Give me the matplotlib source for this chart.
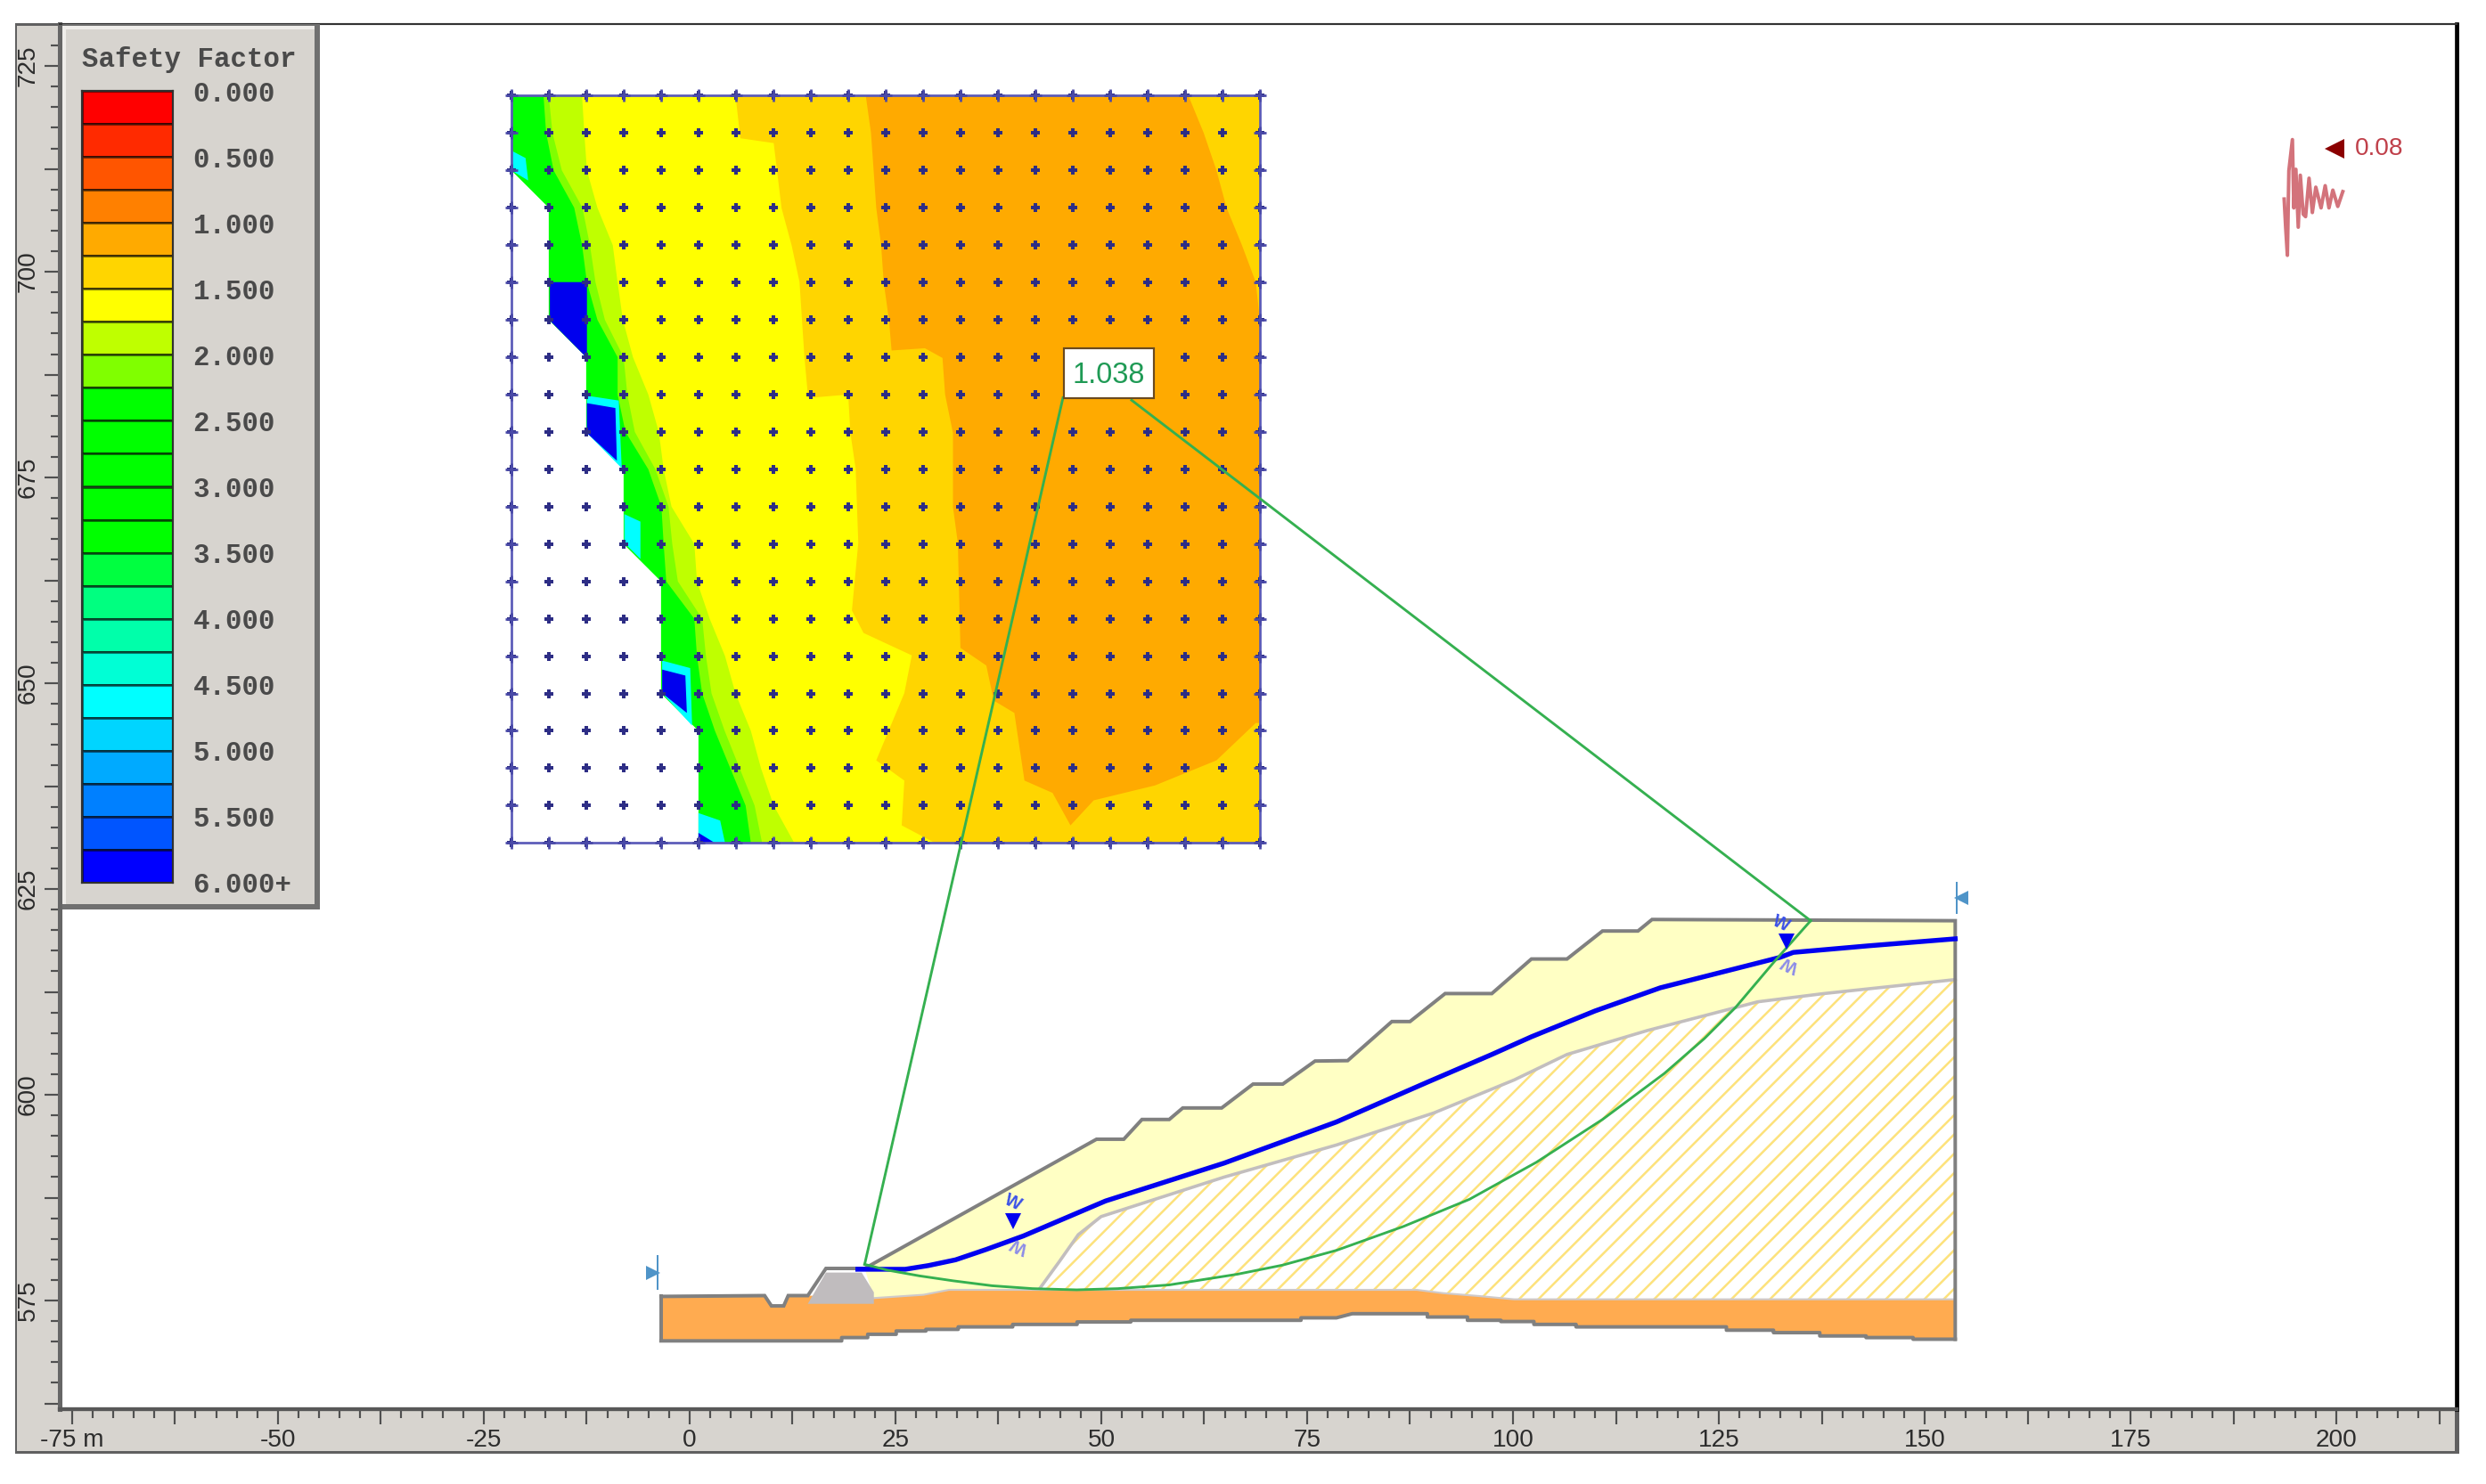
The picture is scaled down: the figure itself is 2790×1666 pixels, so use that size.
import numpy as np
import matplotlib
matplotlib.use("Agg")
import matplotlib.pyplot as plt
from matplotlib.patches import Polygon, Rectangle

W, H, DPI = 2790, 1666, 130

# safety factor legend
fs_levels = np.arange(0, 6, 0.25)
fs_colors = ["#ff0000", "#ff2a00", "#ff5500", "#ff8000", "#ffaa00", "#ffd500", "#ffff00", "#bfff00",
             "#80ff00", "#00ff00", "#00ff00", "#00ff00", "#00ff00", "#00ff00", "#00ff40", "#00ff80",
             "#00ffaa", "#00ffd5", "#00ffff", "#00d5ff", "#00aaff", "#0080ff", "#0055ff", "#0000ff"]
fs_ticks = [0, 0.5, 1, 1.5, 2, 2.5, 3, 3.5, 4, 4.5, 5, 5.5, 6]
fs_labels = ["0.000", "0.500", "1.000", "1.500", "2.000", "2.500", "3.000", "3.500", "4.000",
             "4.500", "5.000", "5.500", "6.000+"]

# slope geometry, metres
surface_x = [-3.47, 9.11, 9.94, 11.43, 11.98, 14.36, 16.56, 21.26, 49.42, 52.73, 54.94, 58.25, 59.9, 64.62,
             68.43, 72.04, 75.96, 79.92, 85.29, 87.49, 91.76, 97.43, 102.24, 106.56, 110.87, 115.18, 116.89, 153.71]
surface_y = [575.5, 575.6, 574.35, 574.35, 575.6, 575.6, 578.9, 578.9, 594.6, 594.6, 597, 597, 598.4, 598.4,
             601.3, 601.3, 604.1, 604.15, 608.9, 608.9, 612.3, 612.3, 616.5, 616.5, 619.9, 619.9, 621.3, 621.15]
base_x = [-3.47, 18.47, 18.47, 21.63, 21.63, 25.09, 25.09, 28.7, 28.7, 32.62, 32.62, 39.24, 39.24, 47.06, 47.06,
          53.58, 53.58, 74.25, 74.25, 78.56, 80.47, 89.6, 89.6, 94.47, 94.47, 98.53, 98.53, 102.54, 102.54,
          107.66, 107.66, 125.92, 125.92, 131.64, 131.64, 137.26, 137.26, 142.88, 142.88, 148.59, 148.59, 153.71]
base_y = [570.1, 570.1, 570.5, 570.5, 570.9, 570.9, 571.3, 571.3, 571.5, 571.5, 571.8, 571.8, 572.1, 572.1, 572.4,
          572.4, 572.6, 572.6, 572.9, 572.9, 573.4, 573.4, 573, 573, 572.6, 572.6, 572.45, 572.45, 572.1,
          572.1, 571.8, 571.8, 571.4, 571.4, 571.1, 571.1, 570.7, 570.7, 570.5, 570.5, 570.3, 570.3]
found_x = [14.36, 22.38, 28.4, 31.51, 56.0, 88.3, 91.5, 95.82, 100.13, 153.71]
found_y = [575.6, 575.3, 575.7, 576.3, 576.3, 576.3, 575.9, 575.55, 575.15, 575.15]
iface_x = [42.55, 44.95, 47.2, 49.97, 64.92, 78.56, 90.4, 100.13, 106.56, 116.29, 129.73, 137.76, 153.71]
iface_y = [576.5, 579.8, 583, 585.2, 590, 593.9, 597.8, 601.8, 604.9, 607.8, 611.3, 612.3, 614]
water_x = [20.43, 26.19, 29, 32.31, 36, 40.54, 50.52, 64.92, 78.56, 89.3, 97.43, 102.24, 110, 117.89, 132.44,
           134.04, 143.17, 153.71]
water_y = [578.8, 578.8, 579.25, 579.95, 581.2, 582.85, 587.1, 591.7, 596.7, 601.4, 604.9, 607.05, 610.2, 613,
           616.7, 617.3, 618.1, 618.95]
slip_x = [21.26, 24, 27.9, 32, 36.73, 41.64, 47, 52, 58.25, 66.53, 72, 78.56, 86.69, 94.71, 102.84, 110.87,
          118.39, 123.26, 127.02, 131.84, 136.15]
slip_y = [579.4, 578.7, 578, 577.4, 576.8, 576.45, 576.3, 576.45, 576.9, 578.2, 579.3, 581.1, 584, 587.3, 591.8,
          597, 602.6, 606.85, 610.6, 616.3, 621.15]
block_x = [14.36, 16.56, 20.9, 22.38, 22.38]
block_y = [574.6, 578.4, 578.4, 576, 574.6]

# search grid
grid_x = np.linspace(-21.65, 69.26, 21)
grid_y = np.linspace(721.4, 630.6, 21)

# contour band edges on the search grid, in column number per grid row
edge_left = [0, 0, 0, 1, 1, 1, 1, 2, 2, 2, 3, 3, 3, 4, 4, 4, 4, 5, 5, 5, 5]
edge_green = [0.86, 0.93, 1.13, 1.68, 1.89, 2.02, 2.3, 2.84, 2.84, 3.05, 3.66, 4.01, 4.07, 4.14, 4.89, 4.96, 5.1,
              5.44, 5.85, 6.26, 6.4]
edge_lime = [1.0, 1.1, 1.35, 1.9, 2.1, 2.25, 2.5, 3.0, 3.1, 3.3, 3.85, 4.2, 4.3, 4.45, 5.1, 5.2, 5.35, 5.7, 6.1,
             6.5, 6.7]
edge_yg = [1.89, 1.95, 2.02, 2.3, 2.71, 2.84, 2.98, 3.25, 3.66, 3.94, 4.07, 4.28, 4.89, 4.96, 5.3, 5.71, 5.99, 6.4,
           6.67, 7.01, 7.56]

# (column, row) outlines where the bands are not regular
yellow_edge = [(5.99, 0), (6.12, 1.14), (7.01, 1.27), (7.22, 3.01), (7.49, 4.01), (7.7, 4.99), (7.83, 6.98),
               (7.93, 8.09), (9.0, 8.0), (9.06, 9.03), (9.2, 9.99), (9.27, 11.97), (9.1, 13.78), (9.41, 14.38),
               (10.7, 14.98), (10.5, 15.99), (9.75, 17.79), (10.5, 18.33), (10.43, 19.53), (11.32, 20)]
orange_edge = [(9.47, 0), (9.61, 1), (9.68, 2), (9.75, 3), (9.88, 4), (9.95, 5), (10.09, 6), (10.16, 6.82),
               (11.05, 6.76), (11.52, 7.02), (11.59, 8), (11.8, 9.03), (11.8, 11.01), (11.93, 11.97), (12.0, 14.78),
               (12.69, 15.25), (12.89, 16.19), (13.44, 16.52), (13.71, 18.33), (14.46, 18.66), (14.94, 19.53),
               (15.56, 18.86), (17.2, 18.46), (18.84, 17.79), (19.89, 16.79), (20, 16.79)]
orange_right = [(20, 6), (19.89, 4.99), (19.52, 4), (19.11, 3), (18.84, 2), (18.5, 1), (18.09, 0)]
cyan_spots = [[(0, 1.47), (0.38, 1.67), (0.45, 2.27), (0, 2.0)],
              [(2.02, 8.03), (2.87, 8.16), (2.95, 9.97), (2.02, 9.03)],
              [(3.02, 11.2), (3.45, 11.4), (3.45, 12.4), (3.02, 11.97)],
              [(4.03, 15.12), (4.78, 15.32), (4.83, 16.86), (4.03, 15.99)],
              [(5, 19.2), (5.58, 19.4), (5.71, 20), (5, 20)]]
blue_spots = [[(1.03, 4.99), (2.02, 4.99), (2.02, 7.02), (1.03, 6.02)],
              [(2.02, 8.23), (2.78, 8.36), (2.82, 9.77), (2.02, 9.03)],
              [(4.03, 15.36), (4.65, 15.52), (4.69, 16.52), (4.03, 15.99)],
              [(5, 19.73), (5.44, 20), (5, 20)]]

# seismic record, offset from its origin in metres on the sheet
quake_t = [0, 0.18, 0.39, 0.57, 1.0, 1.17, 1.42, 1.71, 1.96, 2.31, 2.6, 3.02, 3.42, 3.84, 4.48, 4.98, 5.44, 5.91,
           6.51, 7.12]
quake_a = [-0.36, -3.78, -7.2, 3.07, 6.86, -1.44, 3.25, -3.78, 2.53, -2.2, -2.5, 2.17, -2.0, 1.08, -1.44, 1.26,
           -1.44, 0.72, -1.26, 0.54]

x_labelled = {-75: "-75 m", -50: "-50", -25: "-25", 0: "0", 25: "25", 50: "50", 75: "75", 100: "100", 125: "125",
              150: "150", 175: "175", 200: "200"}
y_labelled = {575: "575", 600: "600", 625: "625", 650: "650", 675: "675", 700: "700", 725: "725"}

GRAY_PANEL = "#d7d4cf"
TEXT_DARK = "#2c2c2c"


def frac(x0, y0, x1, y1):
    # pixel box, top-left origin -> figure fractions
    return [x0 / W, 1 - y1 / H, (x1 - x0) / W, (y1 - y0) / H]


def panel(fig, x0, y0, x1, y1, color, z):
    l, b, w, h = frac(x0, y0, x1, y1)
    fig.add_artist(Rectangle((l, b), w, h, transform=fig.transFigure, facecolor=color, edgecolor="none", zorder=z))


def to_xy(cols, rows):
    step_x = grid_x[1] - grid_x[0]
    step_y = grid_y[1] - grid_y[0]
    return grid_x[0] + np.asarray(cols) * step_x, grid_y[0] + np.asarray(rows) * step_y


def to_right(ax, cols, rows, color, z):
    # paints everything right of an edge, later edges paint over it
    xs, ys = to_xy(cols, rows)
    pts = list(zip(xs, ys)) + [(grid_x[-1], ys[-1]), (grid_x[-1], ys[0])]
    ax.add_patch(Polygon(pts, closed=True, facecolor=color, edgecolor="none", zorder=z))


plt.rcParams["hatch.linewidth"] = 1.4
plt.rcParams["font.family"] = ["Liberation Sans", "DejaVu Sans"]
fig = plt.figure(figsize=(W / DPI, H / DPI), dpi=DPI, facecolor="white")

# grey frame around the sheet
panel(fig, 17, 26, 2760, 1632, "#606060", -3)
panel(fig, 19, 29, 2755, 1629, GRAY_PANEL, -2)

ax = fig.add_axes(frac(67, 27, 2757, 1582), facecolor="white", zorder=0)
ax.set_xlim(-76.5, 214.6)
ax.set_ylim(561.8, 730.1)

for name, lw, col in [("left", 2.8, "#666666"), ("bottom", 2.4, "#585858"), ("top", 1.2, "#333333"), ("right", 2.6, "#000000")]:
    ax.spines[name].set_linewidth(lw)
    ax.spines[name].set_color(col)

xt = np.arange(-75, 213, 12.5)
yt = np.arange(562.5, 730, 12.5)
ax.set_xticks(xt, [x_labelled.get(int(v), "") if v == int(v) else "" for v in xt])
ax.set_yticks(yt, [y_labelled.get(int(v), "") if v == int(v) else "" for v in yt])
ax.set_xticks(np.arange(-75, 214, 2.5), minor=True)
ax.set_yticks(np.arange(562.5, 730, 2.5), minor=True)
ax.tick_params(axis="both", which="major", length=9.5, width=1.2, color="#505050", labelsize=15.5, labelcolor=TEXT_DARK)
ax.tick_params(axis="both", which="minor", length=5.5, width=1.2, color="#505050")
ax.tick_params(axis="x", which="major", pad=2.5)
ax.tick_params(axis="y", which="major", pad=3, labelrotation=90)
for lab in ax.get_yticklabels():
    lab.set_va("center")

# contour bands
rows = np.arange(21)
to_right(ax, edge_left, rows, "#00ff00", 1)
to_right(ax, edge_green, rows, "#80ff00", 1.1)
to_right(ax, edge_lime, rows, "#bfff00", 1.2)
to_right(ax, edge_yg, rows, "#ffff00", 1.3)
c, r = zip(*yellow_edge)
to_right(ax, c, r, "#ffd500", 1.4)
c, r = zip(*(orange_edge + orange_right))
xs, ys = to_xy(c, r)
ax.add_patch(Polygon(list(zip(xs, ys)), closed=True, facecolor="#ffaa00", edgecolor="none", zorder=1.5))
for spot in cyan_spots:
    c, r = zip(*spot)
    xs, ys = to_xy(c, r)
    ax.add_patch(Polygon(list(zip(xs, ys)), closed=True, facecolor="#00ffff", edgecolor="none", zorder=1.6))
for spot in blue_spots:
    c, r = zip(*spot)
    xs, ys = to_xy(c, r)
    ax.add_patch(Polygon(list(zip(xs, ys)), closed=True, facecolor="#0000ee", edgecolor="none", zorder=1.7))

# search grid nodes and frame
gx, gy = np.meshgrid(grid_x, grid_y)
ax.plot(gx.ravel(), gy.ravel(), ls="none", marker="P", ms=6, mew=0, color="#2d2d85", zorder=2)
ax.add_patch(Rectangle((grid_x[0], grid_y[-1]), grid_x[-1] - grid_x[0], grid_y[0] - grid_y[-1], fill=False,
                       edgecolor="#5a5ab8", lw=1.5, zorder=2.1))
edge_mask = (gx == grid_x[0]) | (gx == grid_x[-1]) | (gy == grid_y[0]) | (gy == grid_y[-1])
ax.plot(gx[edge_mask], gy[edge_mask], ls="none", marker="+", ms=8, mew=1.5, color="#4a4aa8", zorder=2.2)

# soil regions
soil = [(x, y) for x, y in zip(surface_x, surface_y) if x > 21] + list(zip(found_x[::-1], found_y[::-1]))[:-1]
ax.add_patch(Polygon(soil, closed=True, facecolor="#ffffc4", edgecolor="none", zorder=3))
rock = list(zip(iface_x, iface_y)) + list(zip(found_x[::-1], found_y[::-1]))
rock = [p for p in rock if p[0] >= 42.55]
ax.add_patch(Polygon(rock, closed=True, facecolor="white", edgecolor="none", zorder=3.1))
ax.add_patch(Polygon(rock, closed=True, fill=False, hatch="//", edgecolor="#fde27c", lw=0, zorder=3.2))
toe = [(x, y) for x, y in zip(surface_x, surface_y) if x <= 14.36]
foundation = toe + list(zip(found_x[1:], found_y[1:])) + list(zip(base_x[::-1], base_y[::-1]))
ax.add_patch(Polygon(foundation, closed=True, facecolor="#ffab50", edgecolor="none", zorder=3.3))
ax.plot(found_x[1:], found_y[1:], color="#cfcaca", lw=1.2, zorder=3.4)
ax.fill(block_x, block_y, color="#c0bcbe", zorder=3.5, lw=0)
ax.plot(iface_x, iface_y, color="#c2bebe", lw=2, zorder=3.6)

# outline
ax.plot(surface_x + [153.71], surface_y + [570.3], color="#808080", lw=2.2, zorder=4, solid_joinstyle="miter")
ax.plot(base_x, base_y, color="#808080", lw=2.2, zorder=4)
ax.plot([base_x[0], surface_x[0]], [base_y[0], surface_y[0]], color="#808080", lw=2.2, zorder=4)

# water table
ax.plot(water_x, water_y, color="#0000f0", lw=3, zorder=5)
for wx, wy, tx, ty, ux, uy in [(39.24, 584.6, 39.24, 586.9, 40.04, 581.7), (133.2, 618.6, 132.6, 620.8, 133.7, 615.9)]:
    ax.plot([wx], [wy], marker="v", ms=10, mew=0, color="#0000f0", zorder=6)
    ax.text(tx, ty, "W", color="#3a50e8", fontsize=11, fontweight="bold", rotation=-25, ha="center", va="center", zorder=6)
    ax.text(ux, uy, "W", color="#8c8ce8", fontsize=11, fontweight="bold", rotation=155, ha="center", va="center", zorder=6)

# critical slip surface and its radii
GREEN = "#35b050"
ax.plot(slip_x, slip_y, color=GREEN, lw=1.6, zorder=5.5)
ax.plot([21.26, 45.35], [579.4, 684.7], color=GREEN, lw=1.6, zorder=5.5)
ax.plot([136.15, 53.68], [621.15, 684.4], color=GREEN, lw=1.6, zorder=5.5)
ax.add_patch(Rectangle((45.45, 684.6), 10.94, 6.1, facecolor="white", edgecolor="#6a4a20", lw=1.2, zorder=7))
ax.text(50.92, 687.4, "1.038", color="#1f9a55", fontsize=18, ha="center", va="center", zorder=8)

# slope limit markers
LIMIT = "#4f94c8"
ax.plot([-3.88, -3.88], [576.4, 580.4], color=LIMIT, lw=1.1, zorder=6)
ax.plot([-4.4], [578.4], marker=">", ms=8.5, mew=0, color=LIMIT, zorder=6)
ax.plot([153.9, 153.9], [622.1, 625.8], color=LIMIT, lw=1.1, zorder=6)
ax.plot([154.45], [623.9], marker="<", ms=8.5, mew=0, color=LIMIT, zorder=6)

# seismic load
ax.plot(193.66 + np.array(quake_t), 709.2 + np.array(quake_a), color="#c8505a", lw=2.2, alpha=0.8, zorder=6)
ax.plot([199.8], [714.9], marker="<", ms=12, mew=0, color="#8b0000", zorder=6)
ax.text(202.2, 714.9, "0.08", color="#c0404a", fontsize=15.5, ha="left", va="center", zorder=6)

# legend
panel(fig, 70, 27, 359, 1021, "#707070", 2)
panel(fig, 70, 29, 353, 1015, GRAY_PANEL, 2.1)
panel(fig, 70, 29, 353, 33, "#efedea", 2.2)
panel(fig, 70, 29, 74, 1015, "#efedea", 2.2)
leg = fig.add_axes(frac(92, 102, 194, 991), zorder=5)
leg.barh(fs_levels + 0.125, 1, height=0.25, color=fs_colors, edgecolor=(0, 0, 0, 0.6), lw=1.5)
leg.set_xlim(0, 1)
leg.set_ylim(6, 0)
leg.set_xticks([])
leg.yaxis.tick_right()
leg.set_yticks(fs_ticks, fs_labels, family="Liberation Mono", fontweight="bold", fontsize=17, color="#4a4a4a")
leg.tick_params(axis="y", length=0, pad=12.5)
for s in leg.spines.values():
    s.set_linewidth(1.2)
    s.set_color("#303030")
fig.text(92 / W, 1 - 67 / H, "Safety Factor", family="Liberation Mono", fontweight="bold", fontsize=17,
         color="#4a4a4a", ha="left", va="center", zorder=6)

fig.savefig("out.png", dpi=DPI)
